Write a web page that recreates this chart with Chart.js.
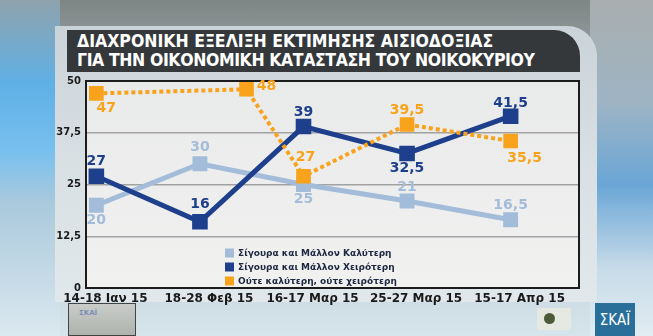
<!DOCTYPE html>
<html lang="el">
<head>
<meta charset="UTF-8">
<title>Διαχρονική εξέλιξη εκτίμησης αισιοδοξίας</title>
<script src="https://cdn.jsdelivr.net/npm/chart.js"></script>
<style>
  html, body { margin: 0; padding: 0; }
  body {
    width: 653px; height: 336px; overflow: hidden; position: relative;
    background: linear-gradient(180deg, #7f8686 0%, #9aa2a3 20%, #b8c6cc 60%, #d6e4ec 100%);
    font-family: "DejaVu Sans", sans-serif;
  }
  #leftBand {
    position: absolute; left: 0; top: 0; width: 60px; height: 336px;
    background: linear-gradient(180deg, #8fa3ad 0%, #5fb0e6 25%, #78c0ef 45%, #a9c9dc 60%, #dbe8ef 100%);
  }
  #rightBand {
    position: absolute; left: 590px; top: 0; width: 63px; height: 336px;
    background: linear-gradient(180deg, #a8aeae 0%, #9fb4c4 30%, #6aa6d6 55%, #c7dbe8 80%, #e2ecf2 100%);
  }
  #panel {
    position: absolute; left: 55px; top: 26px; width: 542px; height: 276px;
    background: linear-gradient(180deg, #cad3d8 0%, #d9e0e4 50%, #e0e8ec 100%);
    border-radius: 0 30px 0 0;
  }
  #title {
    position: absolute; left: 67px; top: 30px; width: 513px; height: 42px;
    background: #34383b; border-radius: 0 26px 0 0;
    color: #fff; font-family: "DejaVu Sans Condensed", "DejaVu Sans", sans-serif;
    font-weight: bold; font-size: 17.5px; line-height: 19px;
    box-sizing: border-box; padding: 2px 0 0 10px; white-space: nowrap;
  }
  #title .second { letter-spacing: -0.4px; }
  #wrap { position: absolute; left: 0; top: 0; width: 653px; height: 336px; }
  #logoLeft {
    position: absolute; left: 68px; top: 303px; width: 68px; height: 33px;
    background: linear-gradient(180deg, #c9ccc9, #aeb3ad); border: 1px solid #444;
    box-sizing: border-box; color: #7d8fb8; font-size: 7px; font-weight: bold;
    padding: 5px 0 0 10px;
  }
  #logoSmall {
    position: absolute; left: 537px; top: 308px; width: 34px; height: 22px;
    background: #e6e8e2; border-radius: 2px;
  }
  #logoSmall::before {
    content: ""; position: absolute; left: 7px; top: 5px; width: 11px; height: 11px;
    border-radius: 50%; background: #4d5a3a;
  }
  #skai {
    position: absolute; left: 595px; top: 303px; width: 40px; height: 33px;
    background: #2a6f99; color: #fff; font-family: "DejaVu Sans Condensed", sans-serif;
    font-size: 15px; line-height: 34px; text-align: center;
  }
</style>
</head>
<body>
<div id="leftBand"></div>
<div id="rightBand"></div>
<div id="panel"></div>
<div id="title">ΔΙΑΧΡΟΝΙΚΗ ΕΞΕΛΙΞΗ ΕΚΤΙΜΗΣΗΣ ΑΙΣΙΟΔΟΞΙΑΣ<br><span class="second">ΓΙΑ ΤΗΝ ΟΙΚΟΝΟΜΙΚΗ ΚΑΤΑΣΤΑΣΗ ΤΟΥ ΝΟΙΚΟΚΥΡΙΟΥ</span></div>
<div id="wrap"><canvas id="chart" width="653" height="336"></canvas></div>
<div id="logoLeft">ΣΚΑΪ</div>
<div id="logoSmall"></div>
<div id="skai">ΣΚΑΪ</div>

<script>
// survey waves
const waves = ['14-18 Ιαν 15', '18-28 Φεβ 15', '16-17 Μαρ 15', '25-27 Μαρ 15', '15-17 Απρ 15'];

// percentages per answer
const better = [20, 30, 25, 21, 16.5];
const worse = [27, 16, 39, 32.5, 41.5];
const neither = [47, 48, 27, 39.5, 35.5];

// the "neither" line has its February marker set later along the axis
const neitherAt = [0, 1.45, 2, 3, 4];

const seriesNames = [
    'Σίγουρα και Μάλλον Καλύτερη',
    'Σίγουρα και Μάλλον Χειρότερη',
    'Ούτε καλύτερη, ούτε χειρότερη'
];

const yTicks = [0, 12.5, 25, 37.5, 50];

const fmt = v => String(v).replace('.', ',');
const toPoints = (arr, xs) => arr.map((v, i) => ({ x: xs ? xs[i] : i, y: v }));

// where each value label sits relative to its marker: [dx, dy]
const lightPos = [[0, 15], [0, -16], [0, 15], [0, -14], [0, -14]];
const darkPos = [[0, -15], [0, -17], [0, -14], [0, 15], [0, -13]];
const orangePos = [[10, 15], [20, -3], [2, -19], [0, -14], [14, 17]];

const valueLabels = {
    id: 'valueLabels',
    afterDatasetsDraw(chart) {
        const ctx = chart.ctx;
        ctx.save();
        ctx.font = 'bold 14px "DejaVu Sans", sans-serif';
        ctx.textAlign = 'center';
        ctx.textBaseline = 'middle';
        chart.data.datasets.forEach((ds, di) => {
            const meta = chart.getDatasetMeta(di);
            meta.data.forEach((pt, i) => {
                const [dx, dy] = ds.labelPos[i];
                ctx.fillStyle = ds.labelColor;
                ctx.fillText(fmt(ds.data[i].y), pt.x + dx, pt.y + dy);
            });
        });
        ctx.restore();
    }
};

const plotFrame = {
    id: 'plotFrame',
    beforeDraw(chart) {
        const { ctx, chartArea: a } = chart;
        const g = ctx.createLinearGradient(0, a.top, 0, a.bottom);
        g.addColorStop(0, '#e9eaea');
        g.addColorStop(1, '#f1f1f0');
        ctx.save();
        ctx.fillStyle = g;
        ctx.fillRect(a.left, a.top, a.right - a.left, a.bottom - a.top);
        ctx.restore();
    },
    beforeDatasetsDraw(chart) {
        const { ctx, chartArea: a } = chart;
        ctx.save();
        ctx.strokeStyle = '#1c1c1c';
        ctx.lineWidth = 2;
        ctx.strokeRect(a.left, a.top, a.right - a.left, a.bottom - a.top);
        ctx.restore();
    },
    afterDraw(chart) {
        // legend box in the lower part of the plot
        const { ctx, chartArea: a } = chart;
        const x = a.left + 139;
        const rows = [a.bottom - 35, a.bottom - 21, a.bottom - 7];
        ctx.save();
        ctx.font = 'bold 9px "DejaVu Sans", sans-serif';
        ctx.textBaseline = 'middle';
        chart.data.datasets.forEach((ds, i) => {
            ctx.fillStyle = ds.backgroundColor;
            ctx.fillRect(x, rows[i] - 4.5, 9, 9);
            ctx.fillStyle = '#1d2740';
            ctx.fillText(ds.label, x + 13, rows[i] + 0.5);
        });
        ctx.restore();
    }
};

new Chart(document.getElementById('chart'), {
    type: 'line',
    data: {
        datasets: [
            {
                label: seriesNames[0],
                data: toPoints(better),
                borderColor: '#a3bcd9',
                backgroundColor: '#a3bcd9',
                borderWidth: 5,
                pointStyle: 'rect',
                pointRadius: 7,
                labelColor: '#a3bcd9',
                labelPos: lightPos,
                order: 3
            },
            {
                label: seriesNames[1],
                data: toPoints(worse),
                borderColor: '#1e3f8c',
                backgroundColor: '#1e3f8c',
                borderWidth: 5,
                pointStyle: 'rect',
                pointRadius: 7.5,
                labelColor: '#1e3f8c',
                labelPos: darkPos,
                order: 2
            },
            {
                label: seriesNames[2],
                data: toPoints(neither, neitherAt),
                borderColor: '#f8a31b',
                backgroundColor: '#f8a31b',
                borderWidth: 4,
                borderDash: [4, 3],
                pointStyle: 'rect',
                pointRadius: 7.5,
                labelColor: '#f8a31b',
                labelPos: orangePos,
                order: 1
            }
        ]
    },
    options: {
        responsive: false,
        animation: false,
        layout: { padding: { left: 36, top: 81, right: 74, bottom: 24 } },
        plugins: { legend: { display: false }, tooltip: { enabled: false } },
        elements: { line: { tension: 0 }, point: { borderWidth: 0 } },
        scales: {
            x: {
                type: 'linear',
                min: -0.1,
                max: 4.66,
                afterBuildTicks: s => { s.ticks = waves.map((w, i) => ({ value: i })); },
                afterFit: s => { s.height = 24; },
                grid: { display: false, drawTicks: false },
                border: { display: false },
                ticks: {
                    callback: v => waves[v],
                    color: '#1a1a1a',
                    font: { family: '"DejaVu Sans", sans-serif', size: 12, weight: 'bold' },
                    padding: 4,
                    labelOffset: 9,
                    maxRotation: 0,
                    autoSkip: false
                }
            },
            y: {
                min: 0,
                max: 50,
                afterBuildTicks: s => { s.ticks = yTicks.map(v => ({ value: v })); },
                afterFit: s => { s.width = 50; },
                grid: { color: '#a2a2a2', lineWidth: 1.5, drawTicks: false },
                border: { display: false },
                ticks: {
                    callback: v => fmt(v),
                    color: '#1a1a1a',
                    font: { family: '"DejaVu Sans", sans-serif', size: 10, weight: 'bold' },
                    padding: 5
                }
            }
        }
    },
    plugins: [plotFrame, valueLabels]
});
</script>
</body>
</html>
